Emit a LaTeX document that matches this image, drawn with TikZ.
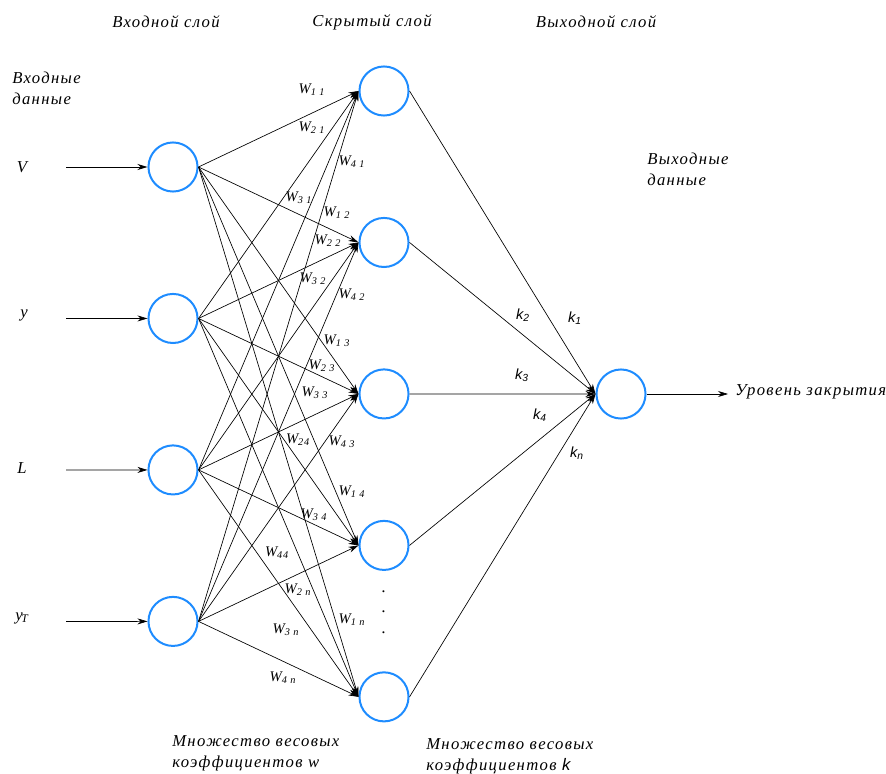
\documentclass[tikz,border=0pt]{standalone}
\usepackage{fontspec}
\setmainfont{Liberation Serif}
\newfontfamily\lblfont[LetterSpace=8]{Liberation Serif}
\newfontfamily\kfont{Liberation Sans}
\usetikzlibrary{positioning,arrows.meta}
\definecolor{nodeblue}{RGB}{30,140,255}
\tikzset{
  main/.style = {draw=nodeblue, circle, line width=1.5pt, minimum size=36.8pt, inner sep=0pt},
  conn/.style = {-{Stealth[length=7.5pt,width=4.5pt]}, line width=0.5pt},
  txt/.style = {font=\fontsize{12.5}{15.5}\selectfont\lblfont\itshape, align=left, inner sep=0pt},
  wlab/.style = {font=\fontsize{11}{12}\selectfont\lblfont\itshape, inner sep=0pt},
  klab/.style = {font=\fontsize{11}{12}\selectfont\kfont\itshape, inner sep=0pt}
}
\begin{document}
\begin{tikzpicture}[x=0.75pt,y=-0.75pt,node distance={113.6pt}]
\useasboundingbox (0,0) rectangle (886,774);
% layer titles
\node[txt] (tin) at (166,22) {Входной слой};
\node[txt] (thid) at (372,22) {Скрытый слой};
\node[txt] (tout) at (596,22) {Выходной слой};
\node[txt, anchor=west] (din) at (12,88) {Входные\\данные};
\node[txt, anchor=west] (dout) at (647,169) {Выходные\\данные};
% input layer
\node[main] (i1) at (173,167) {};
\node[main] (i2) [below of=i1] {};
\node[main] (i3) [below of=i2] {};
\node[main] (i4) [below of=i3] {};
% hidden layer
\node[main] (h1) at (384,91) {};
\node[main] (h2) [below of=h1] {};
\node[main] (h3) [below of=h2] {};
\node[main] (h4) [below of=h3] {};
\node[main] (h5) [below of=h4] {};
% output layer
\node[main] (o) at (621,394) {};
% inputs
\node[txt] (lv) at (22,167) {V};
\node[txt] (ly) at (24,315) {y};
\node[txt] (ll) at (22,468) {L};
\node[txt] (lyt) at (22,618) {y\textsubscript{\kern-1pt T}};
\coordinate (s1) at (66,167);
\coordinate (s2) at (66,318.5);
\coordinate (s3) at (66,470);
\coordinate (s4) at (66,621.5);
\draw[conn] (s1) -- (i1.west);
\draw[conn] (s2) -- (i2.west);
\draw[conn] (s3) -- (i3.west);
\draw[conn] (s4) -- (i4.west);
% input -> hidden
\draw[conn] (i1.east) -- (h1.west);
\draw[conn] (i1.east) -- (h2.west);
\draw[conn] (i1.east) -- (h3.west);
\draw[conn] (i1.east) -- (h4.west);
\draw[conn] (i1.east) -- (h5.west);
\draw[conn] (i2.east) -- (h1.west);
\draw[conn] (i2.east) -- (h2.west);
\draw[conn] (i2.east) -- (h3.west);
\draw[conn] (i2.east) -- (h4.west);
\draw[conn] (i2.east) -- (h5.west);
\draw[conn] (i3.east) -- (h1.west);
\draw[conn] (i3.east) -- (h2.west);
\draw[conn] (i3.east) -- (h3.west);
\draw[conn] (i3.east) -- (h4.west);
\draw[conn] (i3.east) -- (h5.west);
\draw[conn] (i4.east) -- (h1.west);
\draw[conn] (i4.east) -- (h2.west);
\draw[conn] (i4.east) -- (h3.west);
\draw[conn] (i4.east) -- (h4.west);
\draw[conn] (i4.east) -- (h5.west);
% hidden -> output
\draw[conn] (h1.east) -- (o.west);
\draw[conn] (h2.east) -- (o.west);
\draw[conn] (h3.east) -- (o.west);
\draw[conn] (h4.east) -- (o.west);
\draw[conn] (h5.east) -- (o.west);
\coordinate (e) at (728,394);
\draw[conn] (o.east) -- (e);
\node[txt, anchor=west] (res) at (735,392) {Уровень закрытия};
% weights w
\node[wlab] (w11) at (312,90) {W\textsubscript{1 1}};
\node[wlab] (w21) at (312,128) {W\textsubscript{2 1}};
\node[wlab] (w41) at (352,162) {W\textsubscript{4 1}};
\node[wlab] (w31) at (299,198) {W\textsubscript{3 1}};
\node[wlab] (w12) at (337,213) {W\textsubscript{1 2}};
\node[wlab] (w22) at (328,241) {W\textsubscript{2 2}};
\node[wlab] (w32) at (313,279) {W\textsubscript{3 2}};
\node[wlab] (w42) at (352,295) {W\textsubscript{4 2}};
\node[wlab] (w13) at (337,341) {W\textsubscript{1 3}};
\node[wlab] (w23) at (322,366) {W\textsubscript{2 3}};
\node[wlab] (w33) at (315,393) {W\textsubscript{3 3}};
\node[wlab] (w24) at (298,440) {W\textsubscript{24}};
\node[wlab] (w43) at (342,442) {W\textsubscript{4 3}};
\node[wlab] (w14) at (352,492) {W\textsubscript{1 4}};
\node[wlab] (w34) at (314,515) {W\textsubscript{3 4}};
\node[wlab] (w44) at (277,553) {W\textsubscript{44}};
\node[wlab] (w2n) at (298,590) {W\textsubscript{2 n}};
\node[wlab] (w1n) at (352,620) {W\textsubscript{1 n}};
\node[wlab] (w3n) at (286,630) {W\textsubscript{3 n}};
\node[wlab] (w4n) at (283,678) {W\textsubscript{4 n}};
% weights k
\node[klab] (k1) at (575,318) {k\textsubscript{1}};
\node[klab] (k2) at (523,315) {k\textsubscript{2}};
\node[klab] (k3) at (522,375) {k\textsubscript{3}};
\node[klab] (k4) at (540,415) {k\textsubscript{4}};
\node[klab] (kn) at (577,453) {k\textsubscript{n}};
\node[txt, align=center] (dots) at (384,612) {.\\.\\.};
% captions
\node[txt, anchor=west] (capw) at (172,753) {Множество весовых\\коэффициентов w};
\node[txt, anchor=west] (capk) at (426,756) {Множество весовых\\коэффициентов {\kfont k}};
\end{tikzpicture}
\end{document}
